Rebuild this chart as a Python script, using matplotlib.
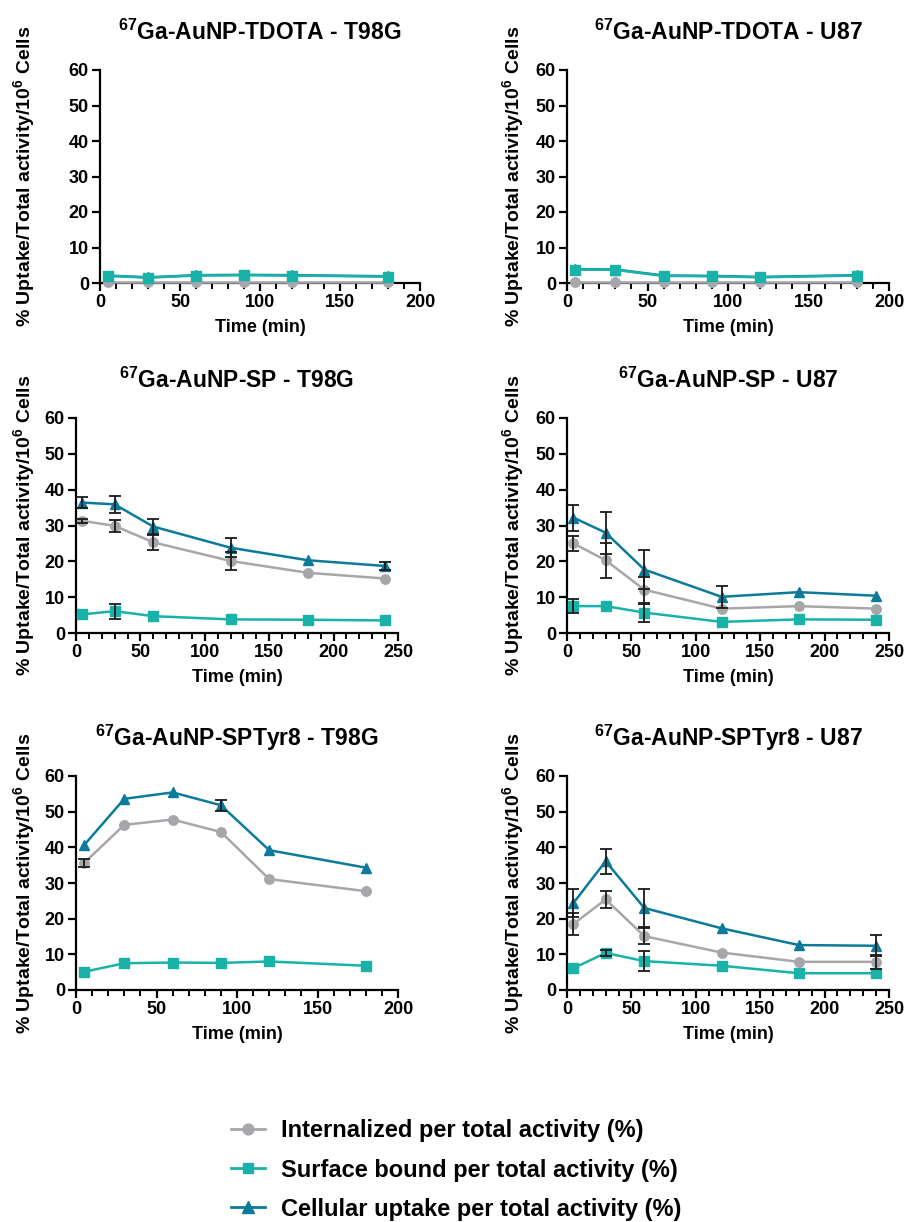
import numpy as np
import matplotlib
matplotlib.use("Agg")
import matplotlib.pyplot as plt
from matplotlib.lines import Line2D

plt.rcParams['font.family'] = ['Liberation Sans', 'DejaVu Sans']
plt.rcParams['font.weight'] = 'bold'
plt.rcParams['mathtext.fontset'] = 'custom'
plt.rcParams['mathtext.rm'] = 'Liberation Sans:bold'
plt.rcParams['mathtext.bf'] = 'Liberation Sans:bold'

# colours of the three series
c_int = '#a7a7ab'
c_surf = '#19b2a8'
c_cell = '#0b7a9b'

labels = ['Internalized per total activity (%)',
          'Surface bound per total activity (%)',
          'Cellular uptake per total activity (%)']

# ---- data ----
# TDOTA - T98G
t_tdota = [5, 30, 60, 90, 120, 180]
tdota_t98g_int = [0.2, 0.2, 0.2, 0.2, 0.2, 0.2]
tdota_t98g_surf = [2.0, 1.5, 2.1, 2.2, 2.1, 1.8]
tdota_t98g_cell = [2.1, 1.6, 2.2, 2.3, 2.2, 1.9]

# TDOTA - U87
tdota_u87_int = [0.2, 0.2, 0.2, 0.2, 0.2, 0.2]
tdota_u87_surf = [3.8, 3.7, 2.0, 1.9, 1.6, 2.1]
tdota_u87_cell = [3.9, 3.8, 2.1, 2.0, 1.7, 2.2]

# SP - T98G
t_sp = [5, 30, 60, 120, 180, 240]
sp_t98g_int = [31.3, 29.9, 25.3, 20.1, 16.8, 15.2]
sp_t98g_int_err = [0.5, 1.6, 2.1, 2.6, 0, 0]
sp_t98g_surf = [5.2, 6.1, 4.7, 3.8, 3.7, 3.5]
sp_t98g_surf_err = [0, 2.1, 0, 0, 0, 0]
sp_t98g_cell = [36.4, 35.9, 29.7, 23.8, 20.3, 18.7]
sp_t98g_cell_err = [1.6, 2.3, 2.1, 2.7, 0, 1.2]

# SP - U87
sp_u87_int = [25.0, 20.3, 12.1, 6.8, 7.5, 6.8]
sp_u87_int_err = [2.0, 4.9, 3.6, 0, 0, 0]
sp_u87_surf = [7.5, 7.5, 5.7, 3.1, 3.8, 3.7]
sp_u87_surf_err = [1.9, 0, 2.5, 0, 0, 0]
sp_u87_cell = [32.2, 28.0, 17.7, 10.1, 11.4, 10.4]
sp_u87_cell_err = [3.6, 5.9, 5.4, 3.0, 0, 0]

# SPTyr8 - T98G
t_tyr_t98g = [5, 30, 60, 90, 120, 180]
tyr_t98g_int = [35.6, 46.3, 47.8, 44.3, 31.1, 27.7]
tyr_t98g_int_err = [1.2, 0, 0, 0, 0, 0]
tyr_t98g_surf = [5.1, 7.5, 7.7, 7.6, 8.0, 6.8]
tyr_t98g_surf_err = [0, 0, 0, 0, 0, 0]
tyr_t98g_cell = [40.6, 53.6, 55.4, 51.8, 39.2, 34.3]
tyr_t98g_cell_err = [0, 0, 0, 1.5, 0, 0]

# SPTyr8 - U87
t_tyr_u87 = [5, 30, 60, 120, 180, 240]
tyr_u87_int = [18.5, 25.4, 15.1, 10.5, 7.9, 7.9]
tyr_u87_int_err = [3.0, 2.4, 2.2, 0, 0, 2.0]
tyr_u87_surf = [6.1, 10.4, 8.1, 6.8, 4.7, 4.7]
tyr_u87_surf_err = [0, 0.8, 2.8, 0, 0, 0]
tyr_u87_cell = [24.4, 36.1, 23.0, 17.3, 12.6, 12.4]
tyr_u87_cell_err = [3.8, 3.5, 5.2, 0, 0, 3.0]

panels = [
    (r'$^{67}$Ga-AuNP-TDOTA - T98G', t_tdota, 200,
     (tdota_t98g_int, None), (tdota_t98g_surf, None), (tdota_t98g_cell, None)),
    (r'$^{67}$Ga-AuNP-TDOTA - U87', t_tdota, 200,
     (tdota_u87_int, None), (tdota_u87_surf, None), (tdota_u87_cell, None)),
    (r'$^{67}$Ga-AuNP-SP - T98G', t_sp, 250,
     (sp_t98g_int, sp_t98g_int_err), (sp_t98g_surf, sp_t98g_surf_err),
     (sp_t98g_cell, sp_t98g_cell_err)),
    (r'$^{67}$Ga-AuNP-SP - U87', t_sp, 250,
     (sp_u87_int, sp_u87_int_err), (sp_u87_surf, sp_u87_surf_err),
     (sp_u87_cell, sp_u87_cell_err)),
    (r'$^{67}$Ga-AuNP-SPTyr8 - T98G', t_tyr_t98g, 200,
     (tyr_t98g_int, tyr_t98g_int_err), (tyr_t98g_surf, tyr_t98g_surf_err),
     (tyr_t98g_cell, tyr_t98g_cell_err)),
    (r'$^{67}$Ga-AuNP-SPTyr8 - U87', t_tyr_u87, 250,
     (tyr_u87_int, tyr_u87_int_err), (tyr_u87_surf, tyr_u87_surf_err),
     (tyr_u87_cell, tyr_u87_cell_err)),
]

# axes boxes in pixels: left, right, top, bottom
boxes = [(100, 420, 70, 283), (567, 889, 70, 283),
         (76, 398, 418, 633), (567, 889, 418, 633),
         (76, 398, 776, 990), (567, 889, 776, 990)]
# x of the y-label (right edge of rotated text) per column
ylab_x = [38, 527, 38, 527, 38, 527]

W, H = 905, 1222
fig = plt.figure(figsize=(W / 100, H / 100), dpi=100)

styles = [(c_int, 'o', 6.8), (c_surf, 's', 6.8), (c_cell, '^', 7.5)]
zorders = [4, 5, 3]

for (title, t, xmax, *series), (l, r, tp, b), lx in zip(panels, boxes, ylab_x):
    ax = fig.add_axes([l / W, 1 - b / H, (r - l) / W, (b - tp) / H])
    for (vals, err), (col, mk, ms), z in zip(series, styles, zorders):
        ax.plot(t, vals, color=col, marker=mk, ms=ms, lw=1.8, zorder=z,
                clip_on=False)
        if err is not None:
            tt = [x for x, e in zip(t, err) if e > 0]
            vv = [v for v, e in zip(vals, err) if e > 0]
            ee = [e for e in err if e > 0]
            if ee:
                ax.errorbar(tt, vv, yerr=ee, fmt='none', ecolor='#1a1a1a',
                            elinewidth=1.3, capsize=4, capthick=1.3, zorder=6)
    ax.set_xlim(0, xmax)
    ax.set_ylim(0, 60)
    ax.set_yticks(range(0, 61, 10))
    ax.set_xticks(range(0, xmax + 1, 50))
    ax.set_xticks(range(0, xmax + 1, 10), minor=True)
    ax.spines['top'].set_visible(False)
    ax.spines['right'].set_visible(False)
    for s in ('left', 'bottom'):
        ax.spines[s].set_linewidth(1.6)
    ax.tick_params(which='major', length=6, width=1.6, labelsize=13, pad=2)
    ax.tick_params(which='minor', length=4, width=1.4)
    for lab in ax.get_xticklabels() + ax.get_yticklabels():
        lab.set_fontweight('bold')
    ax.set_title(title, fontsize=16.5, fontweight='bold', pad=22)
    ax.set_xlabel('Time (min)', fontsize=13, fontweight='bold', labelpad=6)
    ax.set_ylabel(r'% Uptake/Total activity/10$^6$ Cells', fontsize=14,
                  fontweight='bold')
    ax.yaxis.set_label_coords(lx / W, 1 - (tp + b) / 2 / H,
                              transform=fig.transFigure)

handles = [Line2D([], [], color=c, marker=m, ms=s + 1, lw=2) for c, m, s in styles]
fig.legend(handles, labels, loc='upper left',
           bbox_to_anchor=(222 / W, 1 - 1110 / H), frameon=False,
           prop={'size': 17, 'weight': 'bold'}, handlelength=1.4,
           labelspacing=0.68, handletextpad=0.7, borderaxespad=0)

fig.savefig('out.png', dpi=100)
